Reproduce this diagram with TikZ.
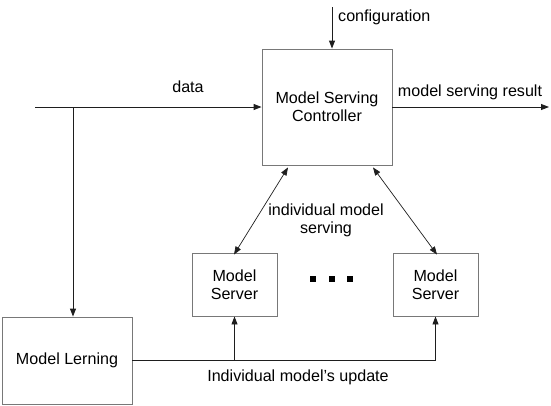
\documentclass[tikz,border=0pt]{standalone}
\usepackage{fontspec}
\setmainfont{Liberation Sans}
\usetikzlibrary{arrows.meta,calc}
\definecolor{boxgray}{RGB}{120,120,120}
\definecolor{linecol}{RGB}{30,30,30}
\tikzset{
  box/.style={draw=boxgray, line width=0.9pt, fill=white, align=center, inner sep=0pt},
  conn/.style={draw=linecol, line width=0.9pt, -{Triangle[length=8pt,width=6pt]}},
  biconn/.style={draw=linecol, line width=0.7pt, {Triangle[length=8pt,width=6pt]}-{Triangle[length=8pt,width=6pt]}},
  plain/.style={draw=linecol, line width=0.9pt},
  lbl/.style={align=center, inner sep=0pt},
  dotsq/.style={fill=black, minimum size=6pt, inner sep=0pt}
}
\begin{document}
\begin{tikzpicture}[x=1pt, y=-1pt, font=\fontsize{16.1}{18.2}\selectfont]
\useasboundingbox (0,0) rectangle (551,405);
% boxes
\node[box, minimum width=130pt, minimum height=116pt] (ctrl) at (327,107) {Model Serving\\Controller};
\node[box, minimum width=85pt, minimum height=63pt] (ls) at (234.5,284.5) {Model\\Server};
\node[box, minimum width=85pt, minimum height=63pt] (rs) at (435.5,284.5) {Model\\Server};
\node[box, minimum width=130pt, minimum height=87pt] (learn) at (67,360.5) {Model Lerning};
% dots
\node[dotsq] (d1) at (313,279) {};
\node[dotsq] (d2) at (331.7,279) {};
\node[dotsq] (d3) at (350.3,279) {};
% coordinates
\coordinate (dstart) at (35,107);
\coordinate (branch) at (73,107);
\coordinate (cfg) at (332,7);
\coordinate (outend) at (549,107);
% connectors
\draw[conn] (dstart) -- (ctrl.west);
\draw[conn] (branch) -- (branch |- learn.north);
\draw[conn] (cfg) -- (cfg |- ctrl.north);
\draw[conn] (ctrl.east) -- (outend);
\draw[biconn] ([xshift=-0.5pt,yshift=-2pt]ls.north) -- ([xshift=-39pt,yshift=-2pt]ctrl.south);
\draw[biconn] ([xshift=1.5pt,yshift=-2pt]rs.north) -- ([xshift=46pt,yshift=-2pt]ctrl.south);
\draw[conn] (learn.east) -| (rs.south);
\draw[conn] (ls.south |- learn.east) -- (ls.south);
% labels
\node[lbl] (tdata) at (188,87) {data};
\node[lbl, anchor=west] (tcfg) at (338,17) {configuration};
\node[lbl] (tout) at (470,92) {model serving result};
\node[lbl] (tind) at (326,220) {individual model\\serving};
\node[lbl] (tupd) at (298,377) {Individual model’s update};
\end{tikzpicture}
\end{document}
